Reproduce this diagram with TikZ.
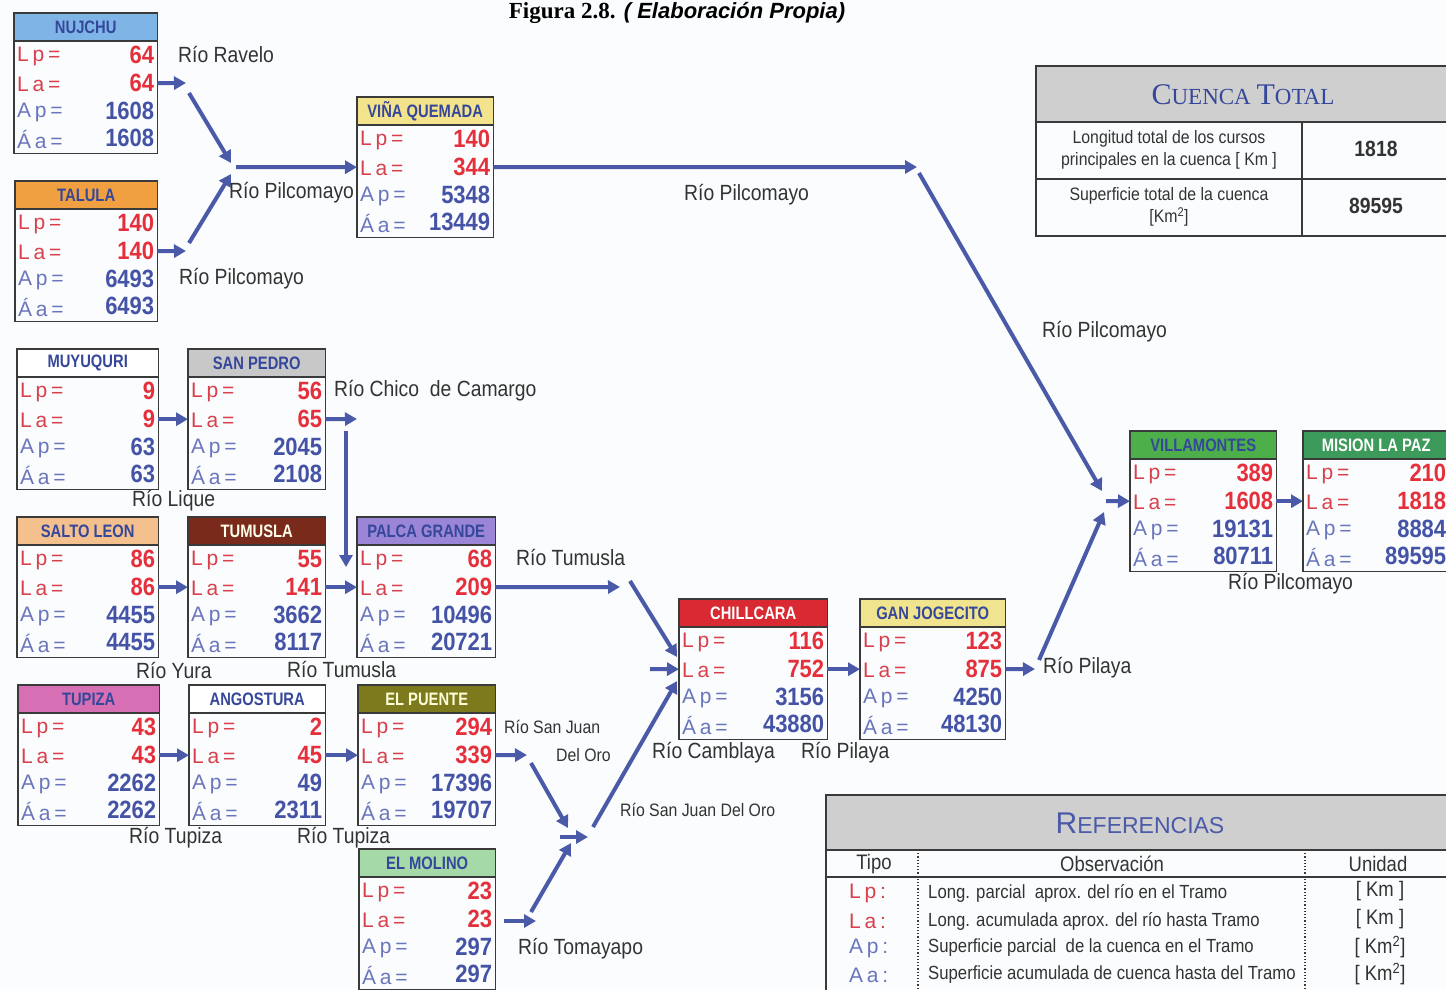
\documentclass[tikz,border=0pt]{standalone}
\usepackage{fontspec}
\setmainfont{Liberation Sans}
\newfontfamily\nar[FakeStretch=0.88]{Liberation Sans}
\newfontfamily\valfont[FakeStretch=0.88]{Liberation Sans}
\newfontfamily\ttlfont[FakeStretch=0.82]{Liberation Sans}
\newfontfamily\lblfont[LetterSpace=18]{Liberation Sans}
\newfontfamily\serifA{Liberation Serif}
\usetikzlibrary{arrows.meta}
\definecolor{arr}{HTML}{4A5AA8}
\definecolor{vred}{HTML}{E5303C}
\definecolor{lred}{HTML}{D8404C}
\definecolor{vblue}{HTML}{4453A6}
\definecolor{lblue}{HTML}{6A76BC}
\definecolor{tblue}{HTML}{35479A}
\definecolor{rivc}{HTML}{333333}
\definecolor{bline}{HTML}{3A3A3A}
\definecolor{bg}{HTML}{FAFCFD}
\definecolor{cNuj}{HTML}{7FB5E6}
\definecolor{cTal}{HTML}{F0A040}
\definecolor{cVin}{HTML}{F2E38C}
\definecolor{cSP}{HTML}{C8C8C8}
\definecolor{cSal}{HTML}{F3C08E}
\definecolor{cTum}{HTML}{7A2A1A}
\definecolor{cPal}{HTML}{9A85D6}
\definecolor{cTup}{HTML}{D66FB4}
\definecolor{cPue}{HTML}{7C7A1C}
\definecolor{cMol}{HTML}{A6D9A8}
\definecolor{cChi}{HTML}{D92A33}
\definecolor{cSJ}{HTML}{F0E48E}
\definecolor{cVil}{HTML}{4DAF4A}
\definecolor{cMis}{HTML}{3C9A5A}
\definecolor{cHead}{HTML}{CFCFCF}
\tikzset{
  flow/.style={draw=arr, line width=4pt, -{Triangle[length=12pt,width=13pt]}},
  rivlbl/.style={text=rivc, font=\nar\fontsize{22}{22}\selectfont, inner sep=0pt, anchor=west},
  rivsm/.style={text=rivc, font=\nar\fontsize{18}{18}\selectfont, inner sep=0pt, anchor=west},
  stbox/.style={rectangle, minimum height=140pt, inner sep=0pt, anchor=north west},
  boxline/.style={draw=bline, line width=1.5pt},
  ttl/.style={font=\ttlfont\bfseries\fontsize{18}{18}\selectfont, inner sep=0pt},
  lbl/.style={font=\lblfont\fontsize{21}{21}\selectfont, inner sep=0pt, anchor=west},
  val/.style={font=\valfont\bfseries\fontsize{25}{25}\selectfont, inner sep=0pt, anchor=east},
  tbltxt/.style={text=rivc, font=\nar\fontsize{18}{22}\selectfont, inner sep=0pt, align=center},
}
\newcommand\station[9]{%
  \node[stbox, minimum width=#3] (#1) at (#2) {};
  \fill[#5] (#1.north west) rectangle ([yshift=-28pt]#1.north east);
  \draw[boxline] ([yshift=-28pt]#1.north west) -- ([yshift=-28pt]#1.north east);
  \node[ttl, #5, fill=none] (#1-t) at ([yshift=-14pt]#1.north) {#4};
  \node[lbl, text=lred] (#1-l1) at ([xshift=3pt,yshift=-43pt]#1.north west) {Lp=};
  \node[lbl, text=lred] (#1-l2) at ([xshift=3pt,yshift=-71pt]#1.north west) {La=};
  \node[lbl, text=lblue] (#1-l3) at ([xshift=3pt,yshift=-99pt]#1.north west) {Ap=};
  \node[lbl, text=lblue] (#1-l4) at ([xshift=3pt,yshift=-126pt]#1.north west) {Áa=};
  \node[val, text=vred] (#1-v1) at ([xshift=-3pt,yshift=-42pt]#1.north east) {#6};
  \node[val, text=vred] (#1-v2) at ([xshift=-3pt,yshift=-70pt]#1.north east) {#7};
  \node[val, text=vblue] (#1-v3) at ([xshift=-3pt,yshift=-98pt]#1.north east) {#8};
  \node[val, text=vblue] (#1-v4) at ([xshift=-3pt,yshift=-125pt]#1.north east) {#9};
  \draw[boxline] (#1.north west) rectangle (#1.south east);
}
\begin{document}
\begin{tikzpicture}[x=1pt,y=-1pt]
\fill[bg] (0,0) rectangle (1446,989);
\useasboundingbox (0,0) rectangle (1446,989);

% title
\node[inner sep=0pt] (title) at (677,13) {{\serifA\bfseries\fontsize{23}{23}\selectfont Figura 2.8.}\ \ \ {\bfseries\itshape\fontsize{22}{22}\selectfont ( Elaboración Propia)}};

% stations
\station{nujchu}{14,13}{143}{NUJCHU}{fill=cNuj,text=tblue}{64}{64}{1608}{1608}
\station{talula}{15,181}{142}{TALULA}{fill=cTal,text=tblue}{140}{140}{6493}{6493}
\station{vina}{357,97}{136}{VIÑA QUEMADA}{fill=cVin,text=tblue}{140}{344}{5348}{13449}
\station{muyu}{17,349}{141}{MUYUQURI}{fill=white,text=tblue}{9}{9}{63}{63}
\station{sanpedro}{188,349}{137}{SAN PEDRO}{fill=cSP,text=tblue}{56}{65}{2045}{2108}
\station{salto}{17,517}{141}{SALTO LEON}{fill=cSal,text=tblue}{86}{86}{4455}{4455}
\station{tumusla}{188,517}{137}{TUMUSLA}{fill=cTum,text=white!92!yellow}{55}{141}{3662}{8117}
\station{palca}{357,517}{138}{PALCA GRANDE}{fill=cPal,text=tblue}{68}{209}{10496}{20721}
\station{tupiza}{18,685}{141}{TUPIZA}{fill=cTup,text=tblue}{43}{43}{2262}{2262}
\station{ango}{189,685}{136}{ANGOSTURA}{fill=white,text=tblue}{2}{45}{49}{2311}
\station{puente}{358,685}{137}{EL PUENTE}{fill=cPue,text=white!85!yellow}{294}{339}{17396}{19707}
\station{molino}{359,849}{136}{EL MOLINO}{fill=cMol,text=tblue}{23}{23}{297}{297}
\station{chill}{679,599}{148}{CHILLCARA}{fill=cChi,text=white}{116}{752}{3156}{43880}
\station{sj}{860,599}{145}{GAN JOGECITO}{fill=cSJ,text=tblue}{123}{875}{4250}{48130}
\station{villa}{1130,431}{146}{VILLAMONTES}{fill=cVil,text=tblue}{389}{1608}{19131}{80711}
\station{mision}{1303,431}{146}{MISION LA PAZ}{fill=cMis,text=white}{210}{1818}{8884}{89595}

% connectors
\coordinate (n1) at (186,83);
\draw[flow] (nujchu.east) -- (n1);
\coordinate (n1b) at (189,93);
\coordinate (j1) at (231,163);
\draw[flow] (n1b) -- (j1);
\coordinate (t1) at (186,251);
\draw[flow] (talula.east) -- (t1);
\coordinate (t1b) at (189,243);
\coordinate (j1b) at (231,174);
\draw[flow] (t1b) -- (j1b);
\coordinate (j1c) at (236,167);
\draw[flow] (j1c) -- (vina.west);
\coordinate (p1) at (917,167);
\draw[flow] (vina.east) -- (p1);
\coordinate (p1b) at (919,173);
\coordinate (p2) at (1102,491);
\draw[flow] (p1b) -- (p2);
\coordinate (p3) at (1106,501);
\draw[flow] (p3) -- (villa.west);
\draw[flow] (villa.east) -- (mision.west);
\draw[flow] (muyu.east) -- (sanpedro.west);
\coordinate (sp1) at (357,419);
\draw[flow] (sanpedro.east) -- (sp1);
\coordinate (sp2) at (346,431);
\coordinate (sp3) at (346,567);
\draw[flow] (sp2) -- (sp3);
\draw[flow] (salto.east) -- (tumusla.west);
\draw[flow] (tumusla.east) -- (palca.west);
\coordinate (pg1) at (620,587);
\draw[flow] (palca.east) -- (pg1);
\coordinate (pg2) at (630,581);
\coordinate (ch1) at (677,657);
\draw[flow] (pg2) -- (ch1);
\coordinate (ch0) at (650,669);
\draw[flow] (ch0) -- (chill.west);
\coordinate (sj0) at (593,827);
\coordinate (ch2) at (677,681);
\draw[flow] (sj0) -- (ch2);
\draw[flow] (chill.east) -- (sj.west);
\coordinate (pi1) at (1035,669);
\draw[flow] (sj.east) -- (pi1);
\coordinate (pi2) at (1039,660);
\coordinate (v2) at (1104,512);
\draw[flow] (pi2) -- (v2);
\draw[flow] (tupiza.east) -- (ango.west);
\draw[flow] (ango.east) -- (puente.west);
\coordinate (ep1) at (527,755);
\draw[flow] (puente.east) -- (ep1);
\coordinate (ep2) at (531,763);
\coordinate (ep3) at (568,828);
\draw[flow] (ep2) -- (ep3);
\coordinate (sj1) at (560,837);
\coordinate (sj2) at (588,837);
\draw[flow] (sj1) -- (sj2);
\coordinate (em0) at (504,921);
\coordinate (em1) at (536,921);
\draw[flow] (em0) -- (em1);
\coordinate (em2) at (531,912);
\coordinate (em3) at (571,843);
\draw[flow] (em2) -- (em3);

% river labels
\node[rivlbl] (r1) at (178,55) {Río Ravelo};
\node[rivlbl] (r2) at (229,193) {Río Pilcomayo};
\node[rivlbl] (r3) at (179,279) {Río Pilcomayo};
\node[rivlbl] (r4) at (684,195) {Río Pilcomayo};
\node[rivlbl] (r5) at (1042,332) {Río Pilcomayo};
\node[rivlbl] (r6) at (1228,584) {Río Pilcomayo};
\node[rivlbl] (r7) at (334,391) {Río Chico\ \ de Camargo};
\node[rivlbl] (r8) at (132,501) {Río Lique};
\node[rivlbl] (r9) at (516,557) {Río Tumusla};
\node[rivlbl] (r10) at (136,670) {Río Yura};
\node[rivlbl] (r11) at (287,669) {Río Tumusla};
\node[rivlbl] (r12) at (129,838) {Río Tupiza};
\node[rivlbl] (r13) at (297,838) {Río Tupiza};
\node[rivsm] (r14) at (504,727) {Río San Juan};
\node[rivsm] (r15) at (556,755) {Del Oro};
\node[rivsm] (r16) at (620,810) {Río San Juan Del Oro};
\node[rivlbl] (r17) at (518,949) {Río Tomayapo};
\node[rivlbl] (r18) at (652,753) {Río Camblaya};
\node[rivlbl] (r19) at (801,753) {Río Pilaya};
\node[rivlbl] (r20) at (1043,668) {Río Pilaya};

% CUENCA TOTAL table
\fill[cHead] (1036,66) rectangle (1450,122);
\draw[boxline] (1036,66) rectangle (1450,236);
\draw[boxline] (1036,122) -- (1450,122);
\draw[boxline] (1036,179) -- (1450,179);
\draw[boxline] (1302,122) -- (1302,236);
\node[inner sep=0pt, text=tblue] (ct) at (1243,95) {\serifA\fontsize{30}{30}\selectfont C\fontsize{23}{23}\selectfont UENCA \fontsize{30}{30}\selectfont T\fontsize{23}{23}\selectfont OTAL};
\node[tbltxt] (ct1) at (1169,150) {Longitud total de los cursos\\principales en la cuenca [ Km ]};
\node[tbltxt] (ct2) at (1169,207) {Superficie total de la cuenca\\{[Km\textsuperscript{2}]}};
\node[inner sep=0pt, text=rivc, font=\valfont\bfseries\fontsize{22}{22}\selectfont] (ct3) at (1376,149) {1818};
\node[inner sep=0pt, text=rivc, font=\valfont\bfseries\fontsize{22}{22}\selectfont] (ct4) at (1376,206) {89595};

% REFERENCIAS table
\fill[cHead] (826,795) rectangle (1450,850);
\draw[boxline] (826,795) rectangle (1450,995);
\draw[boxline] (826,850) -- (1450,850);
\draw[boxline] (826,877) -- (1450,877);
\draw[bline, line width=1.2pt, dotted] (918,850) -- (918,989);
\draw[bline, line width=1.2pt, dotted] (1305,850) -- (1305,989);
\node[inner sep=0pt, text=arr] (rf) at (1140,823) {\fontsize{30}{30}\selectfont R\fontsize{23}{23}\selectfont EFERENCIAS};
\node[inner sep=0pt, text=rivc, font=\nar\fontsize{21}{21}\selectfont] (rh1) at (874,864) {Tipo};
\node[inner sep=0pt, text=rivc, font=\nar\fontsize{21}{21}\selectfont] (rh2) at (1112,864) {Observación};
\node[inner sep=0pt, text=rivc, font=\nar\fontsize{21}{21}\selectfont] (rh3) at (1378,864) {Unidad};
\node[lbl, text=lred] (rt1) at (849,893) {Lp:};
\node[lbl, text=lred] (rt2) at (849,921) {La:};
\node[lbl, text=lblue] (rt3) at (849,948) {Ap:};
\node[lbl, text=lblue] (rt4) at (849,975) {Aa:};
\node[rivsm, font=\nar\fontsize{19}{19}\selectfont] (ro1) at (928,893) {Long. parcial\ \ aprox. del río en el Tramo};
\node[rivsm, font=\nar\fontsize{19}{19}\selectfont] (ro2) at (928,921) {Long. acumulada aprox. del río hasta Tramo};
\node[rivsm, font=\nar\fontsize{19}{19}\selectfont] (ro3) at (928,948) {Superficie parcial\ \ de la cuenca en el Tramo};
\node[rivsm, font=\nar\fontsize{19}{19}\selectfont] (ro4) at (928,975) {Superficie acumulada de cuenca hasta del Tramo};
\node[inner sep=0pt, text=rivc, font=\nar\fontsize{21}{21}\selectfont] (ru1) at (1380,891) {[ Km ]};
\node[inner sep=0pt, text=rivc, font=\nar\fontsize{21}{21}\selectfont] (ru2) at (1380,919) {[ Km ]};
\node[inner sep=0pt, text=rivc, font=\nar\fontsize{21}{21}\selectfont] (ru3) at (1380,947) {[ Km\textsuperscript{2}]};
\node[inner sep=0pt, text=rivc, font=\nar\fontsize{21}{21}\selectfont] (ru4) at (1380,974) {[ Km\textsuperscript{2}]};
\end{tikzpicture}
\end{document}
